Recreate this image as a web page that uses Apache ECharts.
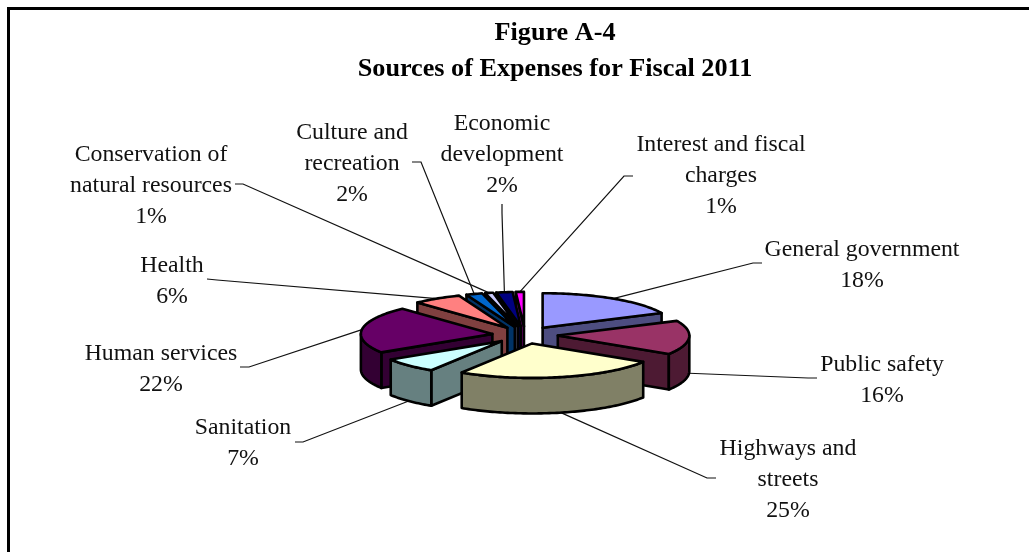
<!DOCTYPE html>
<html>
<head>
<meta charset="utf-8">
<style>html,body{margin:0;padding:0;background:#fff}#chart{width:1029px;height:552px}</style>
<script src="https://cdn.jsdelivr.net/npm/echarts@6/dist/echarts.min.js"></script>
</head>
<body>
<div id="chart"></div>
<script>
// Expense shares for fiscal 2011, clockwise from twelve o'clock.
const categories = [
  'General government', 'Public safety', 'Highways and\nstreets', 'Sanitation',
  'Human services', 'Health', 'Culture and\nrecreation',
  'Conservation of\nnatural resources', 'Economic\ndevelopment',
  'Interest and fiscal\ncharges'
];
const shares = [18, 16, 25, 7, 22, 6, 2, 1, 2, 1];
const sliceColors = [
  '#9999FF', '#993366', '#FFFFCC', '#CCFFFF', '#660066',
  '#FF8080', '#0066CC', '#CCCCFF', '#000080', '#FF00FF'
];

// Label centres and the two leader points next to each label, in pixels.
const labelCentres = [
  [862, 265], [882, 380], [788, 480], [243, 443], [161, 369],
  [172, 281], [352, 164], [151, 186], [502, 155], [721, 176]
];
const leaderStarts = [
  [[762, 263], [753, 263]], [[817, 378], [808, 378]], [[716, 478], [707, 478]],
  [[295, 442], [303, 442]], [[240, 367], [249, 367]], [[207, 279], [217, 280]],
  [[412, 162], [421, 162]], [[235, 184], [243, 184]], [[502, 204], [502, 213]],
  [[633, 176], [624, 176]]
];

const EXPLODE = 0.25;   // slice offset from the centre, in radii
const DEPTH = 1.03;     // slice thickness, in plot-axis units
const FONT = '"Liberation Serif", "Times New Roman", serif';

const total = shares.reduce((a, b) => a + b, 0);
const startShare = shares.map((_, i) => shares.slice(0, i).reduce((a, b) => a + b, 0));
const angleOf = share => share / total * 2 * Math.PI;
const midAngle = i => angleOf(startShare[i] + shares[i] / 2);

function halfShade(hex) {
  const n = parseInt(hex.slice(1), 16);
  const c = [n >> 16, (n >> 8) & 255, n & 255].map(v => Math.round(v / 2));
  return `rgb(${c[0]},${c[1]},${c[2]})`;
}

// Position in plot units of a point on the slice's top face; r is the radius fraction.
function topPoint(i, angle, r) {
  const m = midAngle(i);
  return [
    EXPLODE * Math.sin(m) + r * Math.sin(angle),
    EXPLODE * Math.cos(m) + r * Math.cos(angle)
  ];
}

function renderSlice(params, api) {
  const i = api.value(0);
  const a0 = angleOf(startShare[i]);
  const a1 = angleOf(startShare[i] + api.value(1));
  const fill = sliceColors[i];
  const wall = halfShade(fill);
  const up = p => api.coord(p);
  const down = p => api.coord([p[0], p[1] - DEPTH]);
  const line = { stroke: '#000', lineWidth: 2.6, lineJoin: 'round' };
  const poly = (points, color) => ({
    type: 'polygon', shape: { points }, style: Object.assign({ fill: color }, line)
  });
  const children = [];

  // Cut faces that turn towards the viewer.
  const apex = topPoint(i, 0, 0);
  const cutFace = angle => {
    const rim = topPoint(i, angle, 1);
    return poly([up(apex), up(rim), down(rim), down(apex)], wall);
  };
  if (Math.sin(a0) < -1e-6) children.push(cutFace(a0));
  if (Math.sin(a1) > 1e-6) children.push(cutFace(a1));

  // Outer wall, only along the front half of the rim.
  const from = Math.max(a0, Math.PI / 2);
  const to = Math.min(a1, Math.PI * 1.5);
  if (to > from) {
    const upper = [], lower = [];
    const steps = Math.ceil((to - from) / 0.02);
    for (let s = 0; s <= steps; s++) {
      const p = topPoint(i, from + (to - from) * s / steps, 1);
      upper.push(up(p));
      lower.unshift(down(p));
    }
    children.push(poly(upper.concat(lower), wall));
  }

  // Top face.
  const top = [up(apex)];
  const steps = Math.ceil((a1 - a0) / 0.02);
  for (let s = 0; s <= steps; s++) {
    top.push(up(topPoint(i, a0 + (a1 - a0) * s / steps, 1)));
  }
  children.push(poly(top, fill));
  return { type: 'group', children };
}

function renderLabel(params, api) {
  const i = api.value(0);
  const m = midAngle(i);
  const rim = topPoint(i, m, 1);
  const anchor = api.coord(Math.cos(m) < 0 ? [rim[0], rim[1] - DEPTH] : rim);
  const [p0, p1] = leaderStarts[i];
  const [x, y] = labelCentres[i];
  return {
    type: 'group',
    children: [
      {
        type: 'polyline',
        shape: { points: [p0, p1, anchor] },
        style: { fill: null, stroke: '#111', lineWidth: 1.2 }
      },
      {
        type: 'text', x, y,
        style: {
          text: `${categories[i]}\n${api.value(1)}%`,
          fontFamily: FONT, fontSize: 23.8, lineHeight: 31,
          fill: '#111', align: 'center', verticalAlign: 'middle'
        }
      }
    ]
  };
}

const labelRows = categories.map((_, i) => [i, shares[i]]);
// Slices are painted from the back of the pie to the front.
const sliceRows = labelRows.slice().sort((a, b) => Math.cos(midAngle(b[0])) - Math.cos(midAngle(a[0])));

const chart = echarts.init(document.getElementById('chart'), null, { renderer: 'canvas' });
chart.setOption({
  animation: false,
  backgroundColor: '#fff',
  title: {
    text: 'Figure A-4\nSources of Expenses for Fiscal 2011',
    left: 550, top: 10, textAlign: 'center',
    textStyle: { fontFamily: FONT, fontSize: 26.2, fontWeight: 'bold', color: '#000', lineHeight: 36 }
  },
  // Tilted pie: the vertical axis is compressed, so the unit circle projects to an ellipse.
  grid: { left: 525 - 263, width: 526, top: 335 - 69, height: 138 },
  xAxis: { type: 'value', min: -2, max: 2, show: false },
  yAxis: { type: 'value', min: -2, max: 2, show: false },
  series: [
    { type: 'custom', silent: true, renderItem: renderLabel, data: labelRows, z: 2 },
    { type: 'custom', silent: true, renderItem: renderSlice, data: sliceRows, z: 3 }
  ],
  graphic: [{
    type: 'polyline', silent: true,
    shape: { points: [[8.5, 552], [8.5, 8.5], [1029, 8.5]] },
    style: { fill: null, stroke: '#000', lineWidth: 3 }
  }]
});
</script>
</body>
</html>
